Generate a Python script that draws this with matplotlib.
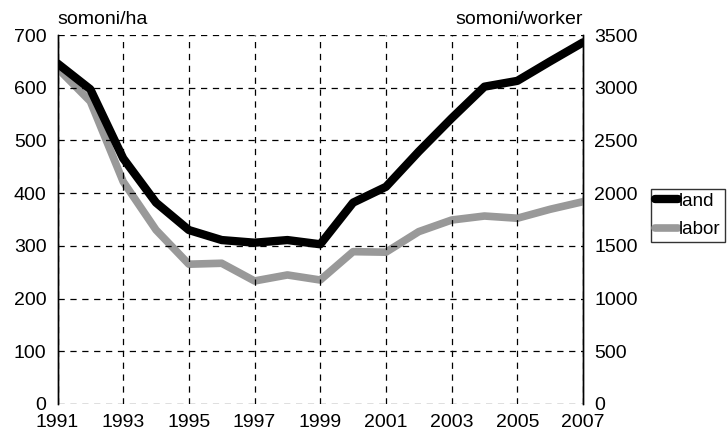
import matplotlib
matplotlib.use("Agg")
import matplotlib.pyplot as plt

plt.rcParams['font.family'] = ['Liberation Sans', 'DejaVu Sans']

years = list(range(1991, 2008))
land = [646, 597, 466, 382, 330, 311, 306, 311, 303, 382, 412, 479, 542, 602, 613, 650, 686]
labor = [3185, 2870, 2109, 1651, 1326, 1335, 1167, 1224, 1176, 1445, 1440, 1635, 1745, 1783, 1762, 1847, 1919]
left_ticks = [0, 100, 200, 300, 400, 500, 600, 700]
right_ticks = [0, 500, 1000, 1500, 2000, 2500, 3000, 3500]
x_ticks = list(range(1991, 2008, 2))

fig = plt.figure(figsize=(7.28, 4.33), dpi=100)
ax = fig.add_axes([57.5 / 728, 29 / 433, (583 - 57.5) / 728, (404 - 35) / 433])
ax2 = ax.twinx()

l1, = ax.plot(years, land, color='black', lw=6, solid_capstyle='round', solid_joinstyle='round', zorder=5, label='land')
l2, = ax2.plot(years, labor, color='#999999', lw=5.5, solid_capstyle='round', solid_joinstyle='round', zorder=4, label='labor')
ax.set_zorder(ax2.get_zorder() + 1)
ax.patch.set_visible(False)

ax.set_xlim(1991, 2007)
ax.set_ylim(0, 700)
ax2.set_ylim(0, 3500)
ax.set_xticks(x_ticks)
ax.set_yticks(left_ticks)
ax2.set_yticks(right_ticks)
dash = (0, (5, 4.5))
ax.grid(True, color='black', linestyle=dash, lw=0.9)

for a in (ax, ax2):
    a.tick_params(length=0, labelsize=14, pad=8)
    for s in a.spines.values():
        s.set_linewidth(1.0)
    a.spines['top'].set_visible(False)
    a.spines['bottom'].set_visible(False)
ax.tick_params(axis='x', pad=7)

ax.text(0.0, 1.02, 'somoni/ha', transform=ax.transAxes, ha='left', va='bottom', fontsize=14)
ax.text(1.0, 1.02, 'somoni/worker', transform=ax.transAxes, ha='right', va='bottom', fontsize=14)

leg = fig.legend([l1, l2], ['land', 'labor'], loc='upper left', bbox_to_anchor=(651 / 728, 1 - 189 / 433),
                 fontsize=13.5, frameon=True, fancybox=False, handlelength=1.25, handletextpad=0.05,
                 borderpad=0.2, borderaxespad=0, labelspacing=0.6)
leg.get_frame().set_edgecolor('black')
leg.get_frame().set_linewidth(1.0)

fig.savefig('out.png', dpi=100)
